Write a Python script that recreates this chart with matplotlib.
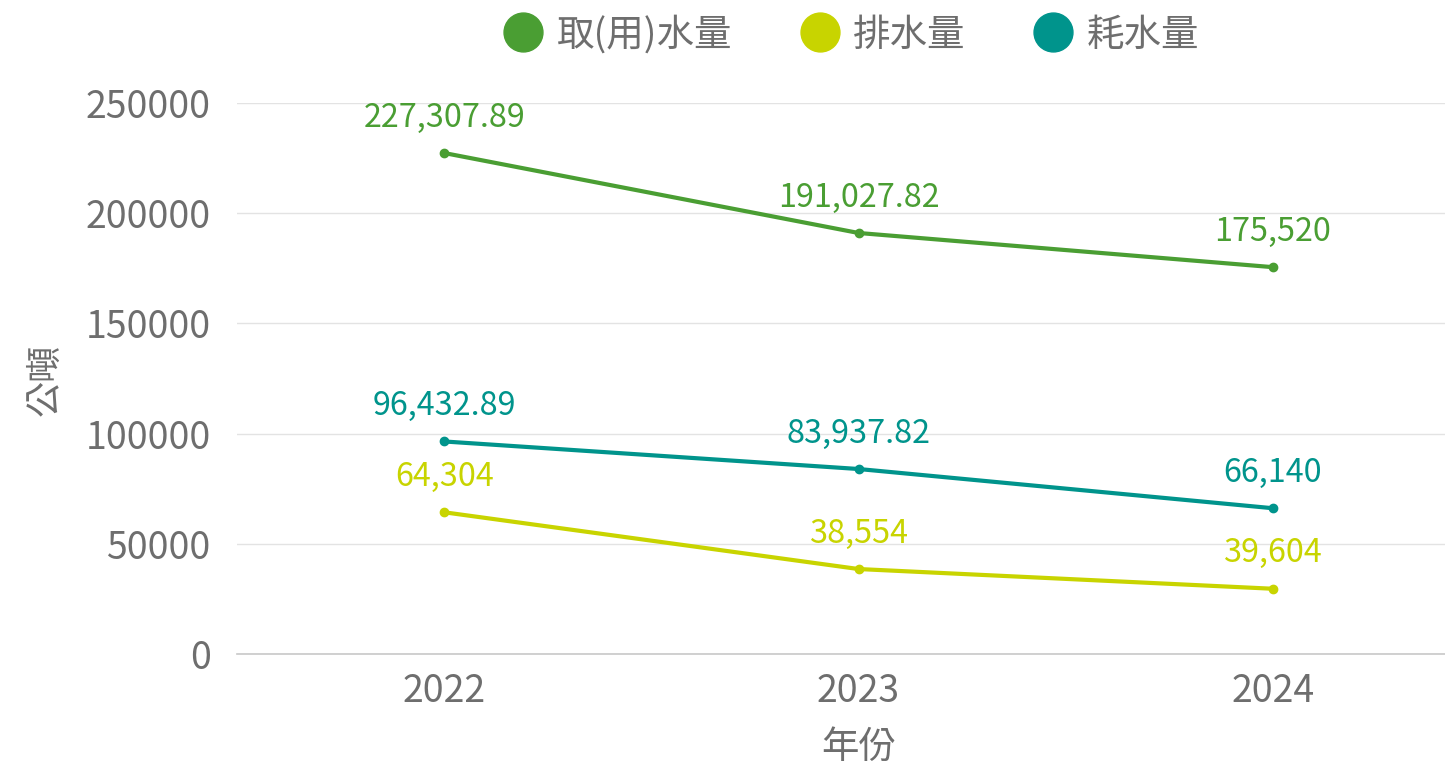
import matplotlib
matplotlib.use("Agg")
import matplotlib.pyplot as plt
from matplotlib.lines import Line2D

plt.rcParams['font.family'] = ['Noto Sans CJK TC', 'DejaVu Sans']

years = ["2022", "2023", "2024"]
series_names = ["取(用)水量", "排水量", "耗水量"]
withdrawal = [227307.89, 191027.82, 175520]
discharge = [64304, 38554, 29604]
consumption = [96432.89, 83937.82, 66140]
withdrawal_labels = ["227,307.89", "191,027.82", "175,520"]
discharge_labels = ["64,304", "38,554", "39,604"]
consumption_labels = ["96,432.89", "83,937.82", "66,140"]
colors = ["#4a9e33", "#c8d400", "#00948c"]
y_ticks = [0, 50000, 100000, 150000, 200000, 250000]

W, H = 1445, 768
fig = plt.figure(figsize=(W / 100, H / 100), dpi=100)
left, right, top, bottom = 237, 1480, 103, 654
ax = fig.add_axes([left / W, 1 - bottom / H, (right - left) / W, (bottom - top) / H])

x = list(range(len(years)))
all_series = [withdrawal, discharge, consumption]
all_labels = [withdrawal_labels, discharge_labels, consumption_labels]
for vals, labs, c in zip(all_series, all_labels, colors):
    ax.plot(x, vals, color=c, lw=3, marker='o', markersize=6, zorder=3, clip_on=False)
    for xi, v, lab in zip(x, vals, labs):
        ax.annotate(lab, (xi, v), xytext=(0, 14), textcoords='offset points',
                    ha='center', va='bottom', color=c, fontsize=23.3, zorder=4)

ax.set_xlim(-0.5, 2.5)
ax.set_ylim(0, 250000)
ax.set_yticks(y_ticks)
ax.set_yticklabels([str(t) for t in y_ticks])
ax.set_xticks(x)
ax.set_xticklabels(years)
ax.tick_params(axis='both', length=0, labelsize=27, labelcolor='#6e6e6e')
ax.tick_params(axis='y', pad=19)
ax.tick_params(axis='x', pad=13)
ax.grid(axis='y', color='#e3e3e3', lw=1)
ax.set_axisbelow(True)
for s in ['left', 'right', 'top']:
    ax.spines[s].set_visible(False)
ax.spines['bottom'].set_color('#c8c8c8')
ax.spines['bottom'].set_linewidth(1.2)

fig.text(45 / W, 1 - 380 / H, "公噸", rotation=90, ha='center', va='center',
         fontsize=26, color='#6e6e6e')
fig.text(859 / W, 1 - 747 / H, "年份", ha='center', va='center',
         fontsize=27, color='#6e6e6e')

handles = [Line2D([], [], marker='o', ls='none', markersize=28, color=c) for c in colors]
fig.legend(handles, series_names, loc='center', bbox_to_anchor=(850 / W, 1 - 35 / H),
           ncol=3, frameon=False, fontsize=27, labelcolor='#6e6e6e',
           handletextpad=0.3, columnspacing=1.73, handlelength=1.2)

fig.savefig("out.png", dpi=100)
